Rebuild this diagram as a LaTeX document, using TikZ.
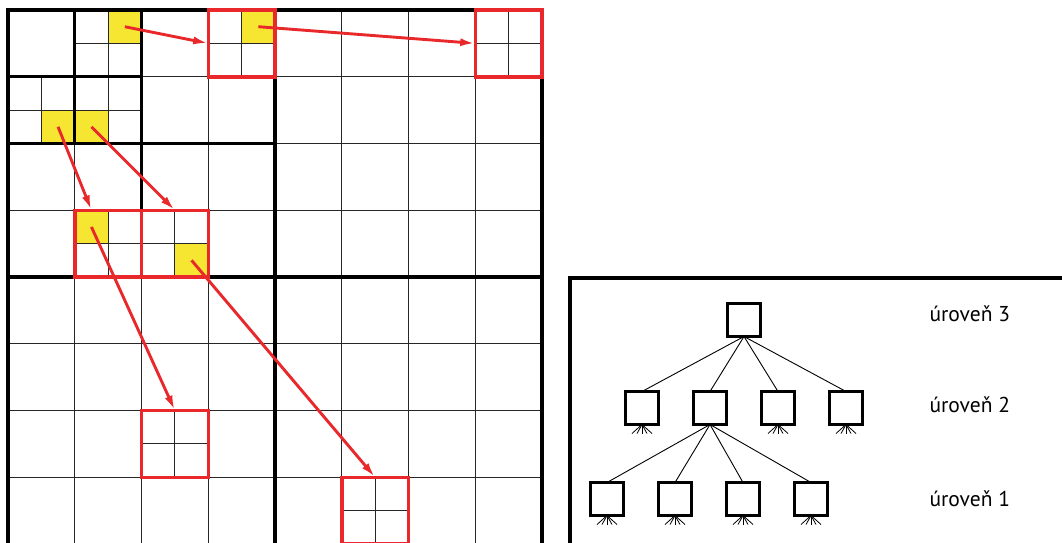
\documentclass[tikz,border=0pt]{standalone}
\usepackage{fontspec}
\setmainfont{PT Sans}
\usetikzlibrary{arrows.meta,positioning}
\definecolor{qred}{RGB}{232,40,42}
\definecolor{qyellow}{RGB}{247,230,49}

\begin{document}
\begin{tikzpicture}[x=1pt,y=-1pt,node distance=35pt,
  sq/.style={draw,line width=3.5pt,minimum size=33pt,inner sep=0pt,outer sep=0pt},
  ycell/.style={fill=qyellow,minimum size=33.375pt,inner sep=0pt,outer sep=0pt},
  rbox/.style={draw=qred,line width=3.5pt,minimum size=66.75pt,inner sep=0pt,outer sep=0pt},
  thin/.style={line width=1pt,black!85},
  thickline/.style={line width=3.3pt},
  edge/.style={line width=0.9pt},
  fan/.style={line width=0.8pt},
  arr/.style={-{Latex[length=15pt,width=8pt]},line width=2.9pt,qred},
  lbl/.style={anchor=base west,font=\fontsize{21.5}{26}\selectfont}]
\path[use as bounding box] (0,0) rectangle (1062,542);
\clip (0,0) rectangle (1062,542);
% quadtree grid, one unit = one cell
\begin{scope}[shift={(8,10)},x=66.75pt,y=-66.75pt]
\node[ycell] (ya) at (1.75,0.25) {};
\node[ycell] (yb) at (3.75,0.25) {};
\node[ycell] (yc) at (0.75,1.75) {};
\node[ycell] (yd) at (1.25,1.75) {};
\node[ycell] (ye) at (1.25,3.25) {};
\node[ycell] (yf) at (2.75,3.75) {};
\foreach \i in {1,...,7} {
  \draw[thin] (\i,0) -- (\i,8);
  \draw[thin] (0,\i) -- (8,\i);
}
\foreach \cx/\cy in {1/0,0/1,1/1,3/0,7/0,1/3,2/3,2/6,5/7} {
  \draw[thin] (\cx+0.5,\cy) -- ++(0,1);
  \draw[thin] (\cx,\cy+0.5) -- ++(1,0);
}
\draw[thickline] (0,8) -- (0,0) -- (8,0) -- (8,8);
\draw[thickline] (4,0) -- (4,8) (0,4) -- (8,4);
\draw[thickline] (2,0) -- (2,4) (0,2) -- (4,2);
\draw[thickline] (1,0) -- (1,2) (0,1) -- (2,1);
\node[rbox] (ra) at (3.5,0.5) {};
\node[rbox] (rb) at (7.5,0.5) {};
\node[rbox] (rc) at (1.5,3.5) {};
\node[rbox] (rd) at (2.5,3.5) {};
\node[rbox] (re) at (2.5,6.5) {};
\node[rbox] (rf) at (5.5,7.5) {};
\end{scope}
\draw[arr] (ya.center) -- (ra.west);
\draw[arr] (yb.center) -- (rb.west);
\draw[arr] (yc.center) -- (ye.north);
\draw[arr] (yd.center) -- (rd.north);
\draw[arr] (ye.center) -- (re.north);
\draw[arr] (yf.center) -- (rf.north);
% tree of levels
\draw[thickline] (570,550) -- (570,278) -- (1070,278);
\node[sq] (top) at (744,320) {};
\node[sq] (b2) at (710,408) {};
\node[sq,left=of b2] (b1) {};
\node[sq,right=of b2] (b3) {};
\node[sq,right=of b3] (b4) {};
\node[sq] (c1) at (607,499) {};
\node[sq,right=of c1] (c2) {};
\node[sq,right=of c2] (c3) {};
\node[sq,right=of c3] (c4) {};
\foreach \n in {b1,b2,b3,b4} \draw[edge] (top.south) -- (\n.north);
\foreach \n in {c1,c2,c3,c4} \draw[edge] (b2.south) -- (\n.north);
\foreach \n in {b1,b3,b4,c1,c2,c3,c4}
  \foreach \d in {-10,-5,0,5,10} \draw[fan] (\n.south) -- ++(\d,9);
\node[lbl] (l3) at (926,321) {úroveň 3};
\node[lbl] (l2) at (926,412) {úroveň 2};
\node[lbl] (l1) at (926,506) {úroveň 1};
\end{tikzpicture}
\end{document}
